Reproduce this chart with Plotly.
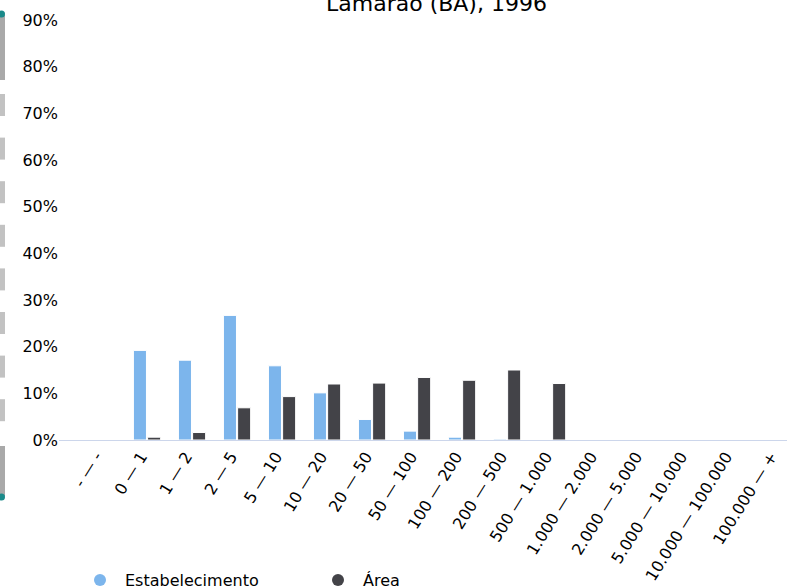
import plotly.graph_objects as go

categories = ["- — -", "0 — 1", "1 — 2", "2 — 5", "5 — 10", "10 — 20", "20 — 50",
              "50 — 100", "100 — 200", "200 — 500", "500 — 1.000", "1.000 — 2.000",
              "2.000 — 5.000", "5.000 — 10.000", "10.000 — 100.000", "100.000 — +"]
estabelecimento = [0, 19.2, 17.1, 26.7, 15.9, 10.1, 4.4, 1.9, 0.6, 0.2, 0, 0, 0, 0, 0, 0]
area = [0, 0.6, 1.6, 6.9, 9.3, 12.0, 12.2, 13.4, 12.8, 15.0, 12.1, 0, 0, 0, 0, 0]
y_ticks = [0, 10, 20, 30, 40, 50, 60, 70, 80, 90]
y_ticktext = [f"{v}%" for v in y_ticks]

BLUE = "#7cb5ec"
DARK = "#434348"
FONT = "DejaVu Sans"

W, H = 787, 587
# target screen positions: plot spans x 59..787, y 20..440
ML = 59
MR = 0
MT = 20
MB = H - 440
PW = W - ML - MR
PH = H - MT - MB

def px_x(x):
    return (x - ML) / PW

def px_y(y):
    return (H - MB - y) / PH

xs = list(range(len(categories)))

fig = go.Figure()
fig.add_trace(go.Bar(x=xs, y=estabelecimento, name="Estabelecimento",
                     marker=dict(color=BLUE, line=dict(color="white", width=1)),
                     showlegend=False))
fig.add_trace(go.Bar(x=xs, y=area, name="Área",
                     marker=dict(color=DARK, line=dict(color="white", width=1)),
                     showlegend=False))
fig.add_trace(go.Scatter(x=[None], y=[None], mode="markers", name="Estabelecimento",
                         marker=dict(color=BLUE, size=12, symbol="circle")))
fig.add_trace(go.Scatter(x=[None], y=[None], mode="markers", name="Área",
                         marker=dict(color=DARK, size=12, symbol="circle")))

# left-edge navigator decoration
shapes = []
shapes.append(dict(type="rect", xref="paper", yref="paper",
                   x0=px_x(0), x1=px_x(5), y0=px_y(80), y1=px_y(15),
                   fillcolor="#a9a9a9", line=dict(width=0), layer="above"))
for i in range(8):
    top = 94 + i * 43.6
    shapes.append(dict(type="rect", xref="paper", yref="paper",
                       x0=px_x(0), x1=px_x(5), y0=px_y(top + 22), y1=px_y(top),
                       fillcolor="#c2c2c2", line=dict(width=0), layer="above"))
shapes.append(dict(type="rect", xref="paper", yref="paper",
                   x0=px_x(0), x1=px_x(5), y0=px_y(496), y1=px_y(446),
                   fillcolor="#a9a9a9", line=dict(width=0), layer="above"))
for yy in (14, 497):
    shapes.append(dict(type="circle", xref="paper", yref="paper",
                       x0=px_x(-2), x1=px_x(5), y0=px_y(yy + 3.5), y1=px_y(yy - 3.5),
                       fillcolor="#1a8a8a", line=dict(width=0), layer="above"))

fig.update_layout(
    width=W, height=H,
    margin=dict(l=ML, r=MR, t=MT, b=MB, pad=0, autoexpand=False),
    paper_bgcolor="white", plot_bgcolor="white",
    font=dict(family=FONT, size=16, color="#000000"),
    barmode="group", bargap=0.37, bargroupgap=0.08,
    xaxis=dict(range=[-0.956, 15.22], tickmode="array", tickvals=xs, ticktext=categories,
               tickangle=-58, showgrid=False, zeroline=False, showline=True,
               linecolor="#ccd6eb", linewidth=1, ticks="", ticklen=0, automargin=False,
               ticklabeloverflow="allow", ticklabelshift=-6,
               tickfont=dict(family=FONT, size=16, color="#000000")),
    yaxis=dict(range=[0, 90], tickmode="array", tickvals=y_ticks, ticktext=y_ticktext,
               showgrid=False, zeroline=False, showline=False, ticks="", automargin=False,
               tickfont=dict(family=FONT, size=16, color="#000000")),
    legend=dict(orientation="h", x=px_x(75), xanchor="left", y=px_y(580), yanchor="middle",
                font=dict(family=FONT, size=16, color="#000000"), itemwidth=40,
                entrywidth=183, entrywidthmode="pixels", bgcolor="rgba(0,0,0,0)"),
    shapes=shapes,
    annotations=[dict(text="Lamarão (BA), 1996", xref="paper", yref="paper",
                      x=px_x(436), y=1, xanchor="center", yanchor="bottom", yshift=2,
                      showarrow=False, font=dict(family=FONT, size=22, color="#000000"))],
)

fig.write_html("out.html", config={"displayModeBar": False},
               post_script="document.body.style.margin='0px';document.body.style.overflow='hidden';")
